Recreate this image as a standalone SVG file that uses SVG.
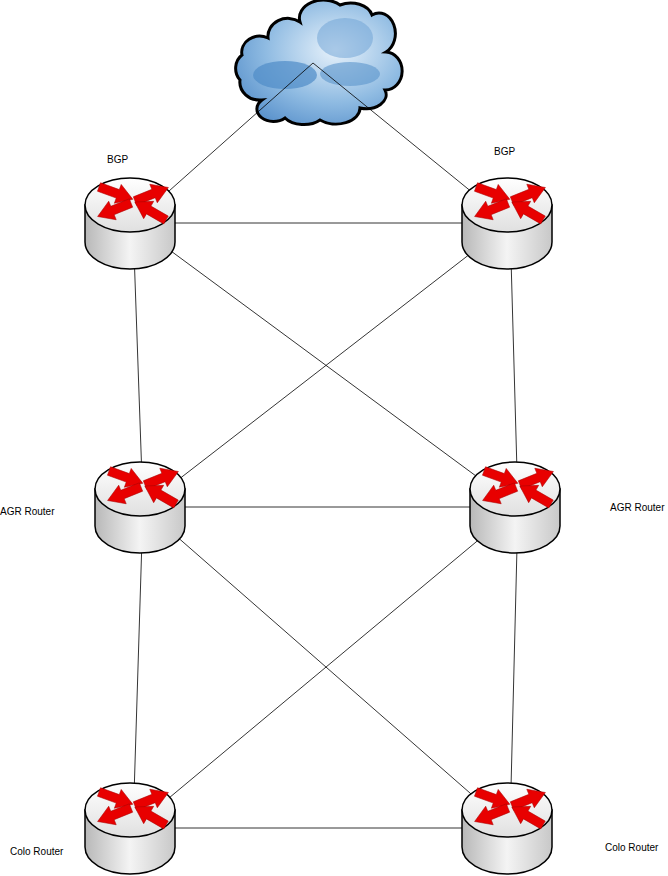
<svg xmlns="http://www.w3.org/2000/svg" width="668" height="876" viewBox="0 0 668 876">
<style>
.ln{stroke:#000;stroke-width:0.8;fill:none}
.lbl{font-family:"Liberation Sans",Arial,sans-serif;font-size:10px;fill:#000}
.ar{fill:#e80000;stroke:#a00;stroke-width:0.5}
</style>
<defs>
<linearGradient id="body" x1="0" x2="1" y1="0" y2="0">
<stop offset="0" stop-color="#b8b8b8"/><stop offset="0.5" stop-color="#f4f4f4"/><stop offset="1" stop-color="#c8c8c8"/>
</linearGradient>
<linearGradient id="top" x1="0" x2="0" y1="0" y2="1">
<stop offset="0" stop-color="#ffffff"/><stop offset="1" stop-color="#e0e0e0"/>
</linearGradient>
<radialGradient id="cl" cx="0.6" cy="0.4" r="0.7">
<stop offset="0" stop-color="#e8f2fb"/><stop offset="0.6" stop-color="#8fbbe2"/><stop offset="1" stop-color="#5a92cc"/>
</radialGradient>
<path id="arw" d="M0,-4.5 L20,-4.5 L20,-10 L36,0 L20,10 L20,4.5 L0,4.5 Z"/>
<g id="router">
<path d="M-48,-18 L-48,19 A45,27 0 0 0 42,19 L42,-18 Z" fill="url(#body)" stroke="#000" stroke-width="1.5"/>
<ellipse cx="-3" cy="-18" rx="45" ry="27" fill="url(#top)" stroke="#000" stroke-width="1.5"/>
<use href="#arw" class="ar" transform="translate(-34,-36) rotate(20)"/>
<use href="#arw" class="ar" transform="translate(2,-22) rotate(-22)"/>
<use href="#arw" class="ar" transform="translate(-2,-20) rotate(158)"/>
<use href="#arw" class="ar" transform="translate(33,-3) rotate(-150)"/>
</g>
</defs>
<g id="cloud">
<path d="M262,100 A20,18 0 0 1 240,80 A14,16 0 0 1 242,55 A18,16 0 0 1 268,38 A20,18 0 0 1 300,22 A24,18 0 0 1 340,5 A22,16 0 0 1 372,15 A16,20 0 0 1 386,52 A14,16 0 0 1 385,90 A20,14 0 0 1 360,108 A24,16 0 0 1 320,120 A22,14 0 0 1 285,118 A16,12 0 0 1 262,100 Z" fill="url(#cl)" stroke="#000" stroke-width="3"/>
<ellipse cx="285" cy="75" rx="32" ry="14" fill="#4f8cc8" opacity="0.7"/>
<ellipse cx="350" cy="74" rx="30" ry="12" fill="#5a94cc" opacity="0.6"/>
<ellipse cx="345" cy="38" rx="28" ry="20" fill="#6aa0d4" opacity="0.5"/>
</g>
<g id="connectors">
<line class="ln" x1="313" y1="63" x2="133" y2="223"/>
<line class="ln" x1="313" y1="63" x2="510" y2="223"/>
<line class="ln" x1="133" y1="223" x2="510" y2="223"/>
<line class="ln" x1="133" y1="223" x2="143" y2="507"/>
<line class="ln" x1="133" y1="223" x2="518" y2="507"/>
<line class="ln" x1="510" y1="223" x2="143" y2="507"/>
<line class="ln" x1="510" y1="223" x2="518" y2="507"/>
<line class="ln" x1="143" y1="507" x2="518" y2="507"/>
<line class="ln" x1="143" y1="507" x2="133" y2="828"/>
<line class="ln" x1="143" y1="507" x2="510" y2="828"/>
<line class="ln" x1="518" y1="507" x2="133" y2="828"/>
<line class="ln" x1="518" y1="507" x2="510" y2="828"/>
<line class="ln" x1="133" y1="828" x2="510" y2="828"/>
</g>
<g id="r-tl"><use href="#router" x="133" y="223"/></g>
<g id="r-tr"><use href="#router" x="510" y="223"/></g>
<g id="r-ml"><use href="#router" x="143" y="507"/></g>
<g id="r-mr"><use href="#router" x="518" y="507"/></g>
<g id="r-bl"><use href="#router" x="133" y="828"/></g>
<g id="r-br"><use href="#router" x="510" y="828"/></g>
<g id="labels">
<text class="lbl" x="107" y="163">BGP</text>
<text class="lbl" x="494" y="155">BGP</text>
<text class="lbl" x="0" y="515">AGR Router</text>
<text class="lbl" x="610" y="511">AGR Router</text>
<text class="lbl" x="10" y="855">Colo Router</text>
<text class="lbl" x="605" y="851">Colo Router</text>
</g>
</svg>
